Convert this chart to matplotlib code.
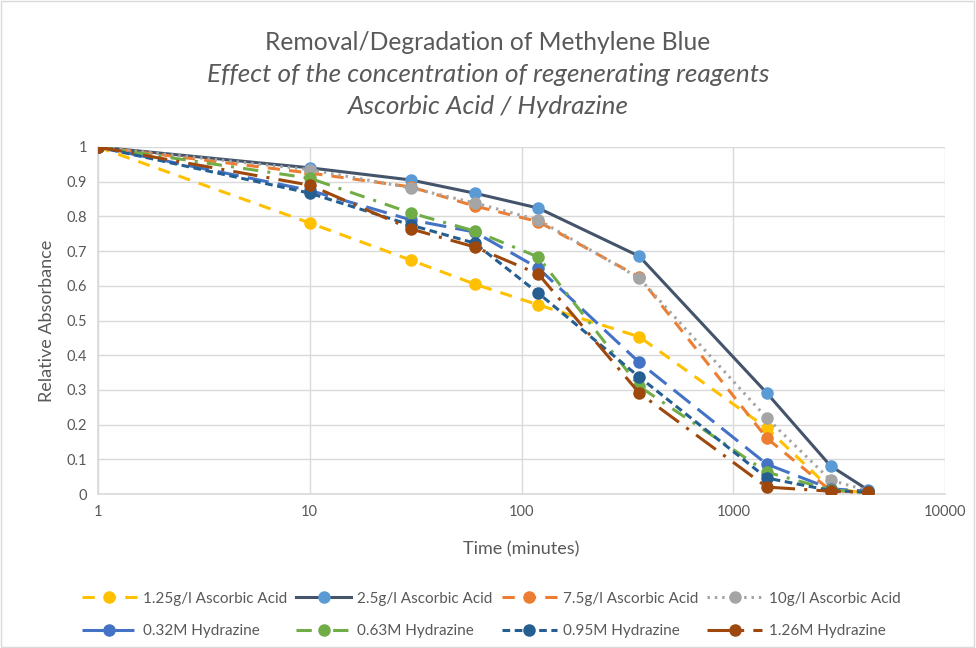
import matplotlib.pyplot as plt
from matplotlib.patches import Rectangle
from matplotlib.ticker import FixedLocator, FuncFormatter

plt.rcParams['font.family'] = ['Lato', 'DejaVu Sans']

# time points (minutes)
tiempo = [1, 10, 30, 60, 120, 360, 1440, 2880, 4320]

nombres = [
    "1.25g/l Ascorbic Acid",
    "2.5g/l Ascorbic Acid",
    "7.5g/l Ascorbic Acid",
    "10g/l Ascorbic Acid",
    "0.32M Hydrazine",
    "0.63M Hydrazine",
    "0.95M Hydrazine",
    "1.26M Hydrazine",
]

asc_125 = [1, 0.781, 0.674, 0.605, 0.545, 0.453, 0.19, 0.015, 0.003]
asc_25 = [1, 0.94, 0.905, 0.867, 0.824, 0.685, 0.291, 0.081, 0.012]
asc_75 = [1, 0.925, 0.885, 0.83, 0.785, 0.625, 0.161, 0.01, 0.005]
asc_10 = [1, 0.935, 0.882, 0.839, 0.79, 0.622, 0.219, 0.04, 0.01]
hid_032 = [1, 0.875, 0.79, 0.755, 0.651, 0.379, 0.086, 0.015, 0.008]
hid_063 = [1, 0.91, 0.81, 0.758, 0.683, 0.31, 0.063, 0.012, 0.005]
hid_095 = [1, 0.867, 0.775, 0.723, 0.579, 0.337, 0.046, 0.01, 0.005]
hid_126 = [1, 0.89, 0.764, 0.712, 0.634, 0.291, 0.02, 0.008, 0.005]

series = [asc_125, asc_25, asc_75, asc_10, hid_032, hid_063, hid_095, hid_126]

colores_linea = ["#FFC000", "#44546A", "#ED7D31", "#A5A5A5",
                 "#4472C4", "#70AD47", "#255E91", "#9E480E"]
colores_marca = ["#FFC000", "#5B9BD5", "#ED7D31", "#A5A5A5",
                 "#4472C4", "#70AD47", "#255E91", "#9E480E"]
estilos = [
    (0, (4, 3)),
    "-",
    (0, (4, 3)),
    (0, (0.8, 1.6)),
    (0, (7, 3)),
    (0, (5, 3, 1, 3)),
    (0, (2.5, 1.5)),
    (0, (8, 3, 1, 3)),
]

gris = "#595959"

fig = plt.figure(figsize=(9.76, 6.48), dpi=100)
ax = fig.add_axes([98 / 976, 1 - 494 / 648, (945 - 98) / 976, (494 - 147) / 648])

lineas = []
for i, datos in enumerate(series):
    ln, = ax.plot(tiempo, datos, linestyle=estilos[i], color=colores_linea[i],
                  lw=2.2, marker="o", markersize=8,
                  markerfacecolor=colores_marca[i], markeredgecolor=colores_marca[i],
                  dash_capstyle="butt", label=nombres[i], zorder=3)
    lineas.append(ln)

ax.set_xscale("log")
ax.set_xlim(1, 10000)
ax.set_ylim(0, 1)
ax.xaxis.set_major_locator(FixedLocator([1, 10, 100, 1000, 10000]))
ax.xaxis.set_minor_locator(FixedLocator([]))
ax.xaxis.set_major_formatter(FuncFormatter(lambda v, p: f"{int(v)}"))
ax.set_yticks([i / 10 for i in range(11)])
ax.yaxis.set_major_formatter(FuncFormatter(lambda v, p: "0" if v == 0 else ("1" if v == 1 else f"{v:.1f}")))

ax.grid(True, color="#D9D9D9", lw=1)
ax.set_axisbelow(True)
for lado in ["top", "right"]:
    ax.spines[lado].set_visible(False)
for lado in ["left", "bottom"]:
    ax.spines[lado].set_color("#D9D9D9")
    ax.spines[lado].set_linewidth(1.2)
ax.tick_params(length=0, labelsize=10.5, labelcolor=gris, pad=8)

ax.set_xlabel("Time (minutes)", fontsize=13, color=gris, labelpad=16)
ax.set_ylabel("Relative Absorbance", fontsize=13, color=gris, labelpad=8)

fig.text(0.5, 1 - 42 / 648, "Removal/Degradation of Methylene Blue",
         ha="center", va="center", fontsize=17.7, color=gris)
fig.text(0.5, 1 - 75 / 648, "Effect of the concentration of regenerating reagents",
         ha="center", va="center", fontsize=18.8, color=gris, style="italic")
fig.text(0.5, 1 - 107 / 648, "Ascorbic Acid / Hydrazine",
         ha="center", va="center", fontsize=18.8, color=gris, style="italic")

orden = [0, 4, 1, 5, 2, 6, 3, 7]
leg = fig.legend([lineas[k] for k in orden], [nombres[k] for k in orden],
                 ncol=4, loc="center", bbox_to_anchor=(491 / 976, 1 - 615 / 648),
                 frameon=False, fontsize=11, handlelength=3.6,
                 columnspacing=0.6, handletextpad=0.4, labelspacing=1.2)
for t in leg.get_texts():
    t.set_color(gris)

fig.patches.append(Rectangle((0.001, 0.001), 0.997, 0.997, transform=fig.transFigure,
                             fill=False, edgecolor="#D9D9D9", lw=1))

fig.savefig("out.png", dpi=100)
